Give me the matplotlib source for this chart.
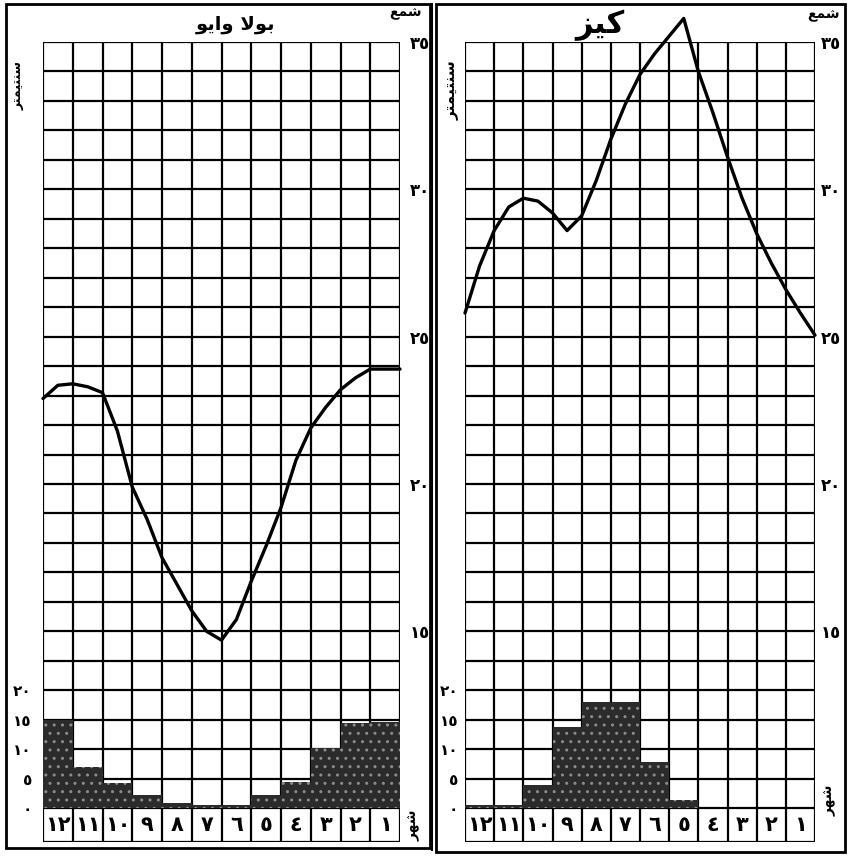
import numpy as np
import matplotlib
matplotlib.use("Agg")
import matplotlib.pyplot as plt
from matplotlib.patches import Rectangle

# --- data ---
# month labels, left to right (month 12 ... month 1)
month_labels = ['١٢', '١١', '١٠', '٩', '٨', '٧', '٦', '٥', '٤', '٣', '٢', '١']
# rain (cm) for months 1..12
rain_bulawayo = [14.6, 14.4, 10.2, 4.4, 2.2, 0.5, 0.5, 0.8, 2.2, 4.2, 7.0, 15.0]
rain_kayes = [0, 0, 0, 0, 1.4, 7.8, 18.0, 18.0, 13.8, 3.9, 0.5, 0.5]

# temperature curve read every half column, from left edge to right edge
curve_pos = np.arange(0, 12.5, 0.5)
temp_bulawayo = [22.9, 23.35, 23.4, 23.3, 23.1, 21.8, 19.9, 18.8, 17.5, 16.6,
                 15.7, 15.0, 14.7, 15.4, 16.7, 17.9, 19.2, 20.8, 21.9, 22.6,
                 23.2, 23.6, 23.9, 23.9, 23.9]
temp_kayes = [25.8, 27.4, 28.6, 29.4, 29.7, 29.6, 29.2, 28.6, 29.1, 30.3,
              31.7, 32.9, 33.9, 34.6, 35.2, 35.8, 34.0, 32.6, 31.1, 29.7,
              28.5, 27.5, 26.6, 25.8, 25.05]

temp_ticks = [15, 20, 25, 30, 35]
temp_tick_labels = ['١٥', '٢٠', '٢٥', '٣٠', '٣٥']
rain_ticks = [0, 5, 10, 15, 20]
rain_tick_labels = ['٠', '٥', '١٠', '١٥', '٢٠']

# Arabic words, already in joined presentation forms and visual order
title_bulawayo = '\uFEEE\uFEF3\uFE8D\uFEED \uFEFB\uFEEE\uFE91'
title_kayes = '\uFEB0\uFEF4\uFEDB'
word_centimetre = '\uFEAE\uFE98\uFEE4\uFEF4\uFE98\uFEE8\uFEB3'
word_degree = '\uFECA\uFEE4\uFEB7'
word_month = '\uFEAE\uFEEC\uFEB7'

W, H = 850, 864
fig = plt.figure(figsize=(W / 100, H / 100), dpi=100)
fig.patch.set_facecolor('white')

T_LOW, T_HIGH = 9, 35          # temperature range of the grid (1 deg per row)
LABEL_ROW = 1.15               # height of the month box row, in rows
RAIN_PER_ROW = 5


def fig_rect(x0, y0, x1, y1):
    # pixel box -> figure fraction [left, bottom, width, height]
    return [x0 / W, 1 - y1 / H, (x1 - x0) / W, (y1 - y0) / H]


def draw_panel(rect, temps, rain, title, title_x, title_size,
               rain_pad, rain_fs, temp_pad):
    ax = fig.add_axes(rect)
    ymin = T_LOW - LABEL_ROW
    ax.set_xlim(0, 12)
    ax.set_ylim(ymin, T_HIGH)
    for s in ax.spines.values():
        s.set_visible(False)

    # the printed grid
    ax.hlines(range(T_LOW, T_HIGH + 1), 0, 12, color='black', lw=1.6, zorder=1)
    ax.hlines(ymin, 0, 12, color='black', lw=1.6, zorder=1)
    ax.vlines(range(0, 13), ymin, T_HIGH, color='black', lw=1.6, zorder=1)

    # month boxes
    for i, lab in enumerate(month_labels):
        ax.text(i + 0.5, T_LOW - LABEL_ROW / 2, lab, ha='center', va='center',
                fontsize=15, fontweight='bold', zorder=5)

    # rain on a twin scale: 5 cm per row, 0 at the bottom of the grid
    axr = ax.twinx()
    axr.set_ylim((ymin - T_LOW) * RAIN_PER_ROW, (T_HIGH - T_LOW) * RAIN_PER_ROW)
    for s in axr.spines.values():
        s.set_visible(False)
    xs = [12 - m + 0.5 for m in range(1, 13)]
    axr.bar(xs, rain, width=1.0, color='#2b2b2b', edgecolor='#8c8c8c',
            hatch='..', linewidth=0, zorder=2)
    axr.yaxis.tick_left()
    axr.set_yticks(rain_ticks)
    axr.set_yticklabels(rain_tick_labels, fontsize=rain_fs, fontweight='bold')
    axr.tick_params(axis='y', length=0, pad=rain_pad)

    # temperature scale on the right (after twinx, which moves it)
    ax.yaxis.tick_right()
    ax.set_yticks(temp_ticks)
    ax.set_yticklabels(temp_tick_labels, fontsize=12, fontweight='bold')
    ax.tick_params(axis='y', length=0, pad=temp_pad, left=False,
                   labelleft=False, right=False, labelright=True)
    ax.set_xticks([])

    # temperature curve drawn on top of everything
    axr.set_zorder(ax.get_zorder() + 1)
    ax2 = fig.add_axes(rect)
    ax2.set_xlim(0, 12)
    ax2.set_ylim(ymin, T_HIGH)
    ax2.set_zorder(axr.get_zorder() + 1)
    ax2.patch.set_visible(False)
    ax2.axis('off')
    ax2.plot(curve_pos, temps, color='black', lw=2.4, clip_on=False,
             solid_joinstyle='round', solid_capstyle='round')

    fig.text(title_x / W, 1 - 25 / H, title, ha='center', va='center',
             fontsize=title_size, fontweight='bold')
    return ax


draw_panel(fig_rect(43, 42, 400, 842), temp_bulawayo, rain_bulawayo,
           title_bulawayo, 235, 14, 8, 11, 7)
draw_panel(fig_rect(465, 42, 815, 842), temp_kayes, rain_kayes,
           title_kayes, 600, 22, 5, 11, 4)

# panel frames of the printed page
for (x0, y0, x1, y1) in [(6, 4, 430, 848), (436, 4, 845, 852)]:
    fig.add_artist(Rectangle((x0 / W, 1 - y1 / H), (x1 - x0) / W, (y1 - y0) / H,
                             transform=fig.transFigure, fill=False,
                             edgecolor='black', lw=2))
fig.add_artist(plt.Line2D([432 / W, 432 / W], [1 - 850 / H, 1 - 4 / H],
                          transform=fig.transFigure, color='black', lw=1.5))

# small captions
fig.text(405 / W, 1 - 13 / H, word_degree, ha='center', va='center',
         fontsize=10, fontweight='bold')
fig.text(823 / W, 1 - 15 / H, word_degree, ha='center', va='center',
         fontsize=10, fontweight='bold')
fig.text(18 / W, 1 - 85 / H, word_centimetre, ha='center', va='center',
         rotation=90, fontsize=9, fontweight='bold')
fig.text(452 / W, 1 - 90 / H, word_centimetre, ha='center', va='center',
         rotation=90, fontsize=11, fontweight='bold')
fig.text(414 / W, 1 - 825 / H, word_month, ha='center', va='center',
         rotation=90, fontsize=10, fontweight='bold')
fig.text(830 / W, 1 - 800 / H, word_month, ha='center', va='center',
         rotation=90, fontsize=10, fontweight='bold')

fig.savefig('out.png', dpi=100, facecolor='white')
